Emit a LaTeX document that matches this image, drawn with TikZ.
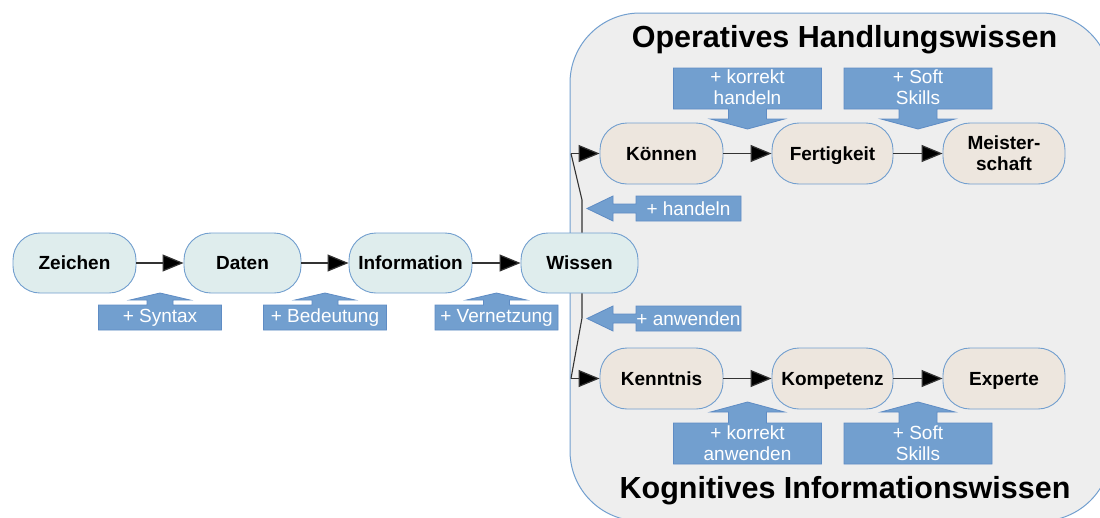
\documentclass[tikz,border=0pt]{standalone}
\usepackage{fontspec}
\setmainfont{Liberation Sans}
\usetikzlibrary{arrows.meta}
\definecolor{bordblue}{HTML}{729FCF}
\definecolor{blockfill}{HTML}{729FCF}
\definecolor{blockdraw}{HTML}{5F8CC4}
\definecolor{cyanfill}{HTML}{DFEDED}
\definecolor{beigefill}{HTML}{EDE6DE}
\definecolor{panelfill}{HTML}{EEEEEE}
\definecolor{linegray}{HTML}{333333}
\newcommand\blockvert[8]{% cx, box half width, attach edge y, far edge y, shaft half width, head base y, head half width, apex y
  \path[blockshape] (#1-#2,#4) -- (#1-#2,#3) -- (#1-#5,#3) -- (#1-#5,#6) -- (#1-#7,#6) -- (#1,#8)
    -- (#1+#7,#6) -- (#1+#5,#6) -- (#1+#5,#3) -- (#1+#2,#3) -- (#1+#2,#4) -- cycle;}
\newcommand\blockleft[1]{% center y of box
  \path[blockshape] (741,#1-12.5) -- (636,#1-12.5) -- (636,#1-4.5) -- (613,#1-4.5) -- (613,#1-12.5)
    -- (587,#1) -- (613,#1+12.5) -- (613,#1+4.5) -- (636,#1+4.5) -- (636,#1+12.5) -- (741,#1+12.5) -- cycle;}
\tikzset{
  basenode/.style={draw=bordblue, line width=0.9pt, rounded corners=27pt,
    minimum height=60pt, inner sep=0pt, font=\fontsize{19}{21}\selectfont\bfseries, align=center},
  oneline/.style={text height=13.7pt, text depth=0pt},
  wnode/.style={basenode, oneline, fill=cyanfill},
  knode/.style={basenode, oneline, fill=beigefill, minimum height=61pt},
  knodetwo/.style={basenode, fill=beigefill, minimum height=61pt},
  conn/.style={draw=linegray, line width=1.2pt, -{Triangle[length=21pt,width=17pt,fill=black]}},
  branch/.style={draw=linegray, line width=1.1pt},
  blockshape/.style={fill=blockfill, draw=blockdraw, line width=0.8pt},
  btext/.style={text=white, font=\fontsize{19}{20.5}\selectfont, align=center, inner sep=0pt},
  titletext/.style={font=\fontsize{30.5}{32}\selectfont\bfseries, anchor=base, inner sep=0pt}
}
\begin{document}
\begin{tikzpicture}[x=1pt, y=-1pt]
\clip (0,0) rectangle (1100,517);
\fill[white] (0,0) rectangle (1100,517);
% panel
\path[fill=panelfill, draw=bordblue, line width=1pt, rounded corners=70pt] (570,13) rectangle (1111,521);
\node[titletext] (optitle) at (844.5,47) {Operatives Handlungswissen};
\node[titletext] (kogtitle) at (845,498) {Kognitives Informationswissen};

% left chain
\node[wnode, minimum width=123pt] (Zeichen) at (74.5,263) {Zeichen};
\node[wnode, minimum width=117pt] (Daten) at (242.5,263) {Daten};
\node[wnode, minimum width=123pt] (Information) at (410.5,263) {Information};
\node[wnode, minimum width=117pt] (Wissen) at (579.5,263) {Wissen};
\draw[conn] (Zeichen) -- (Daten);
\draw[conn] (Daten) -- (Information);
\draw[conn] (Information) -- (Wissen);

% upper chain
\node[knode, minimum width=123pt] (Koennen) at (661.5,153.5) {Können};
\node[knode, minimum width=121pt] (Fertigkeit) at (832.5,153.5) {Fertigkeit};
\node[knodetwo, minimum width=122pt] (Meister) at (1004,153.5) {Meister-\\schaft};
\draw[conn] (Koennen) -- (Fertigkeit);
\draw[conn] (Fertigkeit) -- (Meister);

% lower chain
\node[knode, minimum width=123pt] (Kenntnis) at (661.5,378.5) {Kenntnis};
\node[knode, minimum width=121pt] (Kompetenz) at (832.5,378.5) {Kompetenz};
\node[knode, minimum width=122pt] (Experte) at (1004,378.5) {Experte};
\draw[conn] (Kenntnis) -- (Kompetenz);
\draw[conn] (Kompetenz) -- (Experte);

% branches from Wissen
\coordinate (bu) at (582,200);
\coordinate (tu) at (571,153.5);
\coordinate (bd) at (582,318);
\coordinate (td) at (571,378.5);
\draw[branch] ([xshift=2.5pt]Wissen.north) -- (bu) -- (tu);
\draw[conn] (tu) -- (Koennen.west);
\draw[branch] ([xshift=2.5pt]Wissen.south) -- (bd) -- (td);
\draw[conn] (td) -- (Kenntnis.west);

% block arrows under left chain
\blockvert{160}{61.5}{305}{330}{13}{300}{30}{293}
\node[btext] (syn) at (160,318) {+ Syntax};
\blockvert{325}{61.5}{305}{330}{13}{300}{30}{293}
\node[btext] (bed) at (325,318) {+ Bedeutung};
\blockvert{496.5}{61.5}{305}{330}{13}{300}{30}{293}
\node[btext] (ver) at (496.5,318) {+ Vernetzung};

% block arrows above upper chain
\blockvert{747.5}{74}{109}{68}{19}{119}{37}{129}
\node[btext] (korh) at (747.5,87) {+ korrekt\\handeln};
\blockvert{918}{74}{109}{68}{19}{119}{37}{129}
\node[btext] (softa) at (918,87) {+ Soft\\Skills};

% block arrows below lower chain
\blockvert{747.5}{74}{423}{464}{19}{412}{37}{402}
\node[btext] (kora) at (747.5,443) {+ korrekt\\anwenden};
\blockvert{918}{74}{423}{464}{19}{412}{37}{402}
\node[btext] (softb) at (918,443) {+ Soft\\Skills};

% left-pointing block arrows
\blockleft{208.5}
\node[btext] (hand) at (688.5,208.5) {+ handeln};
\blockleft{318.5}
\node[btext] (anw) at (688.5,318.5) {+ anwenden};
\end{tikzpicture}
\end{document}
